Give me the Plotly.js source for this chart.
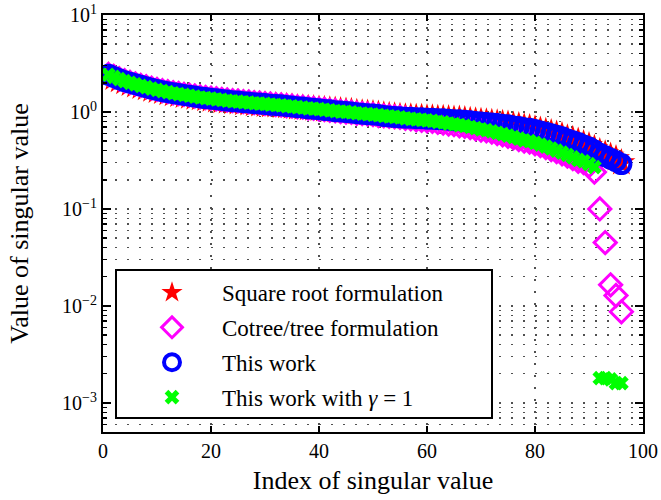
<!DOCTYPE html>
<html>
<head>
<meta charset="utf-8">
<script src="https://cdn.plot.ly/plotly-3.0.1.min.js"></script>
<style>html,body{margin:0;padding:0;background:#fff;}#chart{width:661px;height:500px;}</style>
</head>
<body>
<div id="chart"></div>
<script>
// ---- data ----
var seriesNames = ["Square root formulation", "Cotree/tree formulation", "This work", "This work with <i>γ</i> = 1"];

var idxAll = [1,2,3,4,5,6,7,8,9,10,11,12,13,14,15,16,17,18,19,20,21,22,23,24,25,26,27,28,29,30,31,32,33,34,35,36,37,38,39,40,41,42,43,44,45,46,47,48,49,50,51,52,53,54,55,56,57,58,59,60,61,62,63,64,65,66,67,68,69,70,71,72,73,74,75,76,77,78,79,80,81,82,83,84,85,86,87,88,89,90,91,92,93,94,95,96];

var sqrtRoot = [2.36,2.24,2.12,2.02,1.94,1.87,1.81,1.75,1.69,1.64,1.60,1.56,1.52,1.49,1.46,1.43,1.40,1.38,1.35,1.33,1.31,1.29,1.28,1.26,1.25,1.23,1.22,1.20,1.19,1.18,1.17,1.16,1.15,1.14,1.13,1.11,1.10,1.09,1.08,1.07,1.06,1.05,1.04,1.03,1.02,1.01,0.99,0.98,0.97,0.96,0.95,0.93,0.92,0.91,0.90,0.89,0.89,0.88,0.88,0.87,0.87,0.86,0.86,0.85,0.84,0.84,0.83,0.82,0.81,0.80,0.79,0.78,0.77,0.76,0.75,0.73,0.72,0.70,0.69,0.67,0.65,0.63,0.61,0.59,0.57,0.54,0.52,0.50,0.47,0.45,0.42,0.39,0.37,0.35,0.33,0.30];

var thisWork = [2.42,2.30,2.18,2.08,2.00,1.93,1.86,1.80,1.74,1.69,1.64,1.60,1.56,1.53,1.50,1.47,1.44,1.41,1.39,1.37,1.35,1.33,1.31,1.29,1.28,1.26,1.25,1.23,1.22,1.21,1.19,1.18,1.17,1.15,1.14,1.12,1.11,1.09,1.08,1.07,1.05,1.04,1.02,1.01,1.00,0.99,0.97,0.96,0.95,0.94,0.93,0.91,0.90,0.89,0.88,0.87,0.87,0.86,0.86,0.85,0.85,0.84,0.84,0.83,0.82,0.82,0.81,0.80,0.79,0.78,0.77,0.76,0.75,0.74,0.73,0.71,0.70,0.68,0.67,0.65,0.63,0.61,0.59,0.57,0.55,0.52,0.50,0.48,0.45,0.43,0.40,0.37,0.35,0.33,0.31,0.29];

var cotreeTree = [2.44,2.32,2.20,2.10,2.02,1.95,1.88,1.82,1.76,1.71,1.66,1.62,1.58,1.55,1.52,1.49,1.46,1.43,1.41,1.39,1.37,1.35,1.33,1.31,1.30,1.28,1.27,1.25,1.24,1.22,1.21,1.19,1.18,1.16,1.15,1.13,1.12,1.10,1.09,1.07,1.06,1.04,1.03,1.01,1.00,0.99,0.97,0.96,0.95,0.94,0.92,0.91,0.90,0.89,0.88,0.86,0.85,0.83,0.82,0.81,0.80,0.78,0.77,0.75,0.74,0.72,0.71,0.69,0.67,0.65,0.64,0.62,0.60,0.58,0.56,0.54,0.52,0.50,0.49,0.47,0.45,0.43,0.41,0.39,0.37,0.35,0.33,0.31,0.30,0.28,0.24,0.100,0.045,0.0165,0.0128,0.0087];

var gammaOne = [2.42,2.30,2.18,2.08,2.00,1.93,1.86,1.80,1.74,1.69,1.64,1.60,1.56,1.53,1.50,1.47,1.44,1.41,1.39,1.37,1.35,1.33,1.31,1.29,1.28,1.26,1.25,1.23,1.22,1.21,1.19,1.18,1.17,1.15,1.14,1.12,1.11,1.09,1.08,1.07,1.05,1.04,1.02,1.01,1.00,0.99,0.97,0.96,0.95,0.94,0.93,0.91,0.90,0.89,0.88,0.86,0.85,0.84,0.83,0.82,0.81,0.79,0.78,0.76,0.75,0.73,0.72,0.70,0.68,0.66,0.65,0.63,0.61,0.59,0.57,0.55,0.53,0.51,0.50,0.48,0.46,0.44,0.42,0.40,0.38,0.36,0.34,0.32,0.31,0.29,0.27,0.0018,0.0018,0.00175,0.0016,0.0016];

var xTickVals = [0,20,40,60,80,100];
var yTickVals = [0.001,0.01,0.1,1,10];
var yTickText = ["10<sup>−3</sup>","10<sup>−2</sup>","10<sup>−1</sup>","10<sup>0</sup>","10<sup>1</sup>"];

// minor log ticks (2..9 × 10^n)
var yMinor = [];
[0.0001,0.001,0.01,0.1,1].forEach(function(d){ for (var k=2;k<=9;k++) yMinor.push(k*d); });

var FONT = "Liberation Serif, Times New Roman, serif";
var GRIDC = "#505050";
var DASH = "2px,10px";

var traces = [
  {x: idxAll, y: sqrtRoot, name: seriesNames[0], mode: "markers", type: "scatter", legendgroup: "a",
   marker: {symbol: "star", size: 21, color: "#ff0000", line: {width: 0}}},
  {x: idxAll, y: cotreeTree, name: seriesNames[1], mode: "markers", type: "scatter", legendgroup: "b",
   marker: {symbol: "diamond-open", size: 17, color: "#ff00ff", line: {width: 3, color: "#ff00ff"}}},
  {x: idxAll, y: thisWork, name: seriesNames[2], mode: "markers", type: "scatter", legendgroup: "c",
   marker: {symbol: "circle-open", size: 18, color: "#0000ff", line: {width: 4, color: "#0000ff"}}},
  {x: idxAll, y: gammaOne, name: seriesNames[3], mode: "markers", type: "scatter", legendgroup: "d",
   marker: {symbol: "x", size: 13, color: "#00ff00", line: {width: 0}}}
];

var L = 103, R = 643, T = 15, B = 432;
var W = R - L, H = B - T;
function px(x){ return (x - L) / W; }
function py(y){ return (B - y) / H; }

var layout = {
  width: 661, height: 500,
  margin: {l: L, r: 661 - R, t: T, b: 500 - B, pad: 0},
  paper_bgcolor: "#fff", plot_bgcolor: "#fff",
  font: {family: FONT, size: 17, color: "#000"},
  showlegend: true,
  legend: {
    x: px(122), y: py(271), xanchor: "left", yanchor: "top",
    bgcolor: "rgba(0,0,0,0)", borderwidth: 0,
    font: {family: FONT, size: 23, color: "#000"},
    itemwidth: 90, tracegroupgap: 2, traceorder: "grouped", itemsizing: "trace"
  },
  xaxis: {
    range: [0, 100], tickmode: "array", tickvals: xTickVals,
    ticks: "inside", ticklen: 6, tickwidth: 1.5, tickcolor: "#000",
    showline: true, linewidth: 2, linecolor: "#000", mirror: "ticks",
    showgrid: true, gridcolor: GRIDC, gridwidth: 1.5, griddash: DASH,
    zeroline: false,
    tickfont: {family: FONT, size: 20},
    title: {text: "Index of singular value", font: {family: FONT, size: 26}, standoff: 10}
  },
  yaxis: {
    type: "log", range: [-3.3, 1],
    tickmode: "array", tickvals: yTickVals, ticktext: yTickText,
    ticks: "inside", ticklen: 8, tickwidth: 1.5, tickcolor: "#000",
    showline: true, linewidth: 2, linecolor: "#000", mirror: "ticks",
    showgrid: true, gridcolor: GRIDC, gridwidth: 1.5, griddash: DASH,
    zeroline: false,
    tickfont: {family: FONT, size: 20},
    minor: {tickmode: "array", tickvals: yMinor, ticks: "inside", ticklen: 4, tickcolor: "#000",
            showgrid: true, gridcolor: GRIDC, gridwidth: 1.5, griddash: DASH},
    title: {text: "Value of singular value", font: {family: FONT, size: 26}, standoff: 26}
  },
  shapes: [{
    type: "rect", xref: "paper", yref: "paper", layer: "above",
    x0: px(116), x1: px(492), y0: py(418), y1: py(270),
    fillcolor: "#fff", line: {color: "#000", width: 2}
  }]
};

Plotly.newPlot("chart", traces, layout, {staticPlot: true, displayModeBar: false});
</script>
</body>
</html>
